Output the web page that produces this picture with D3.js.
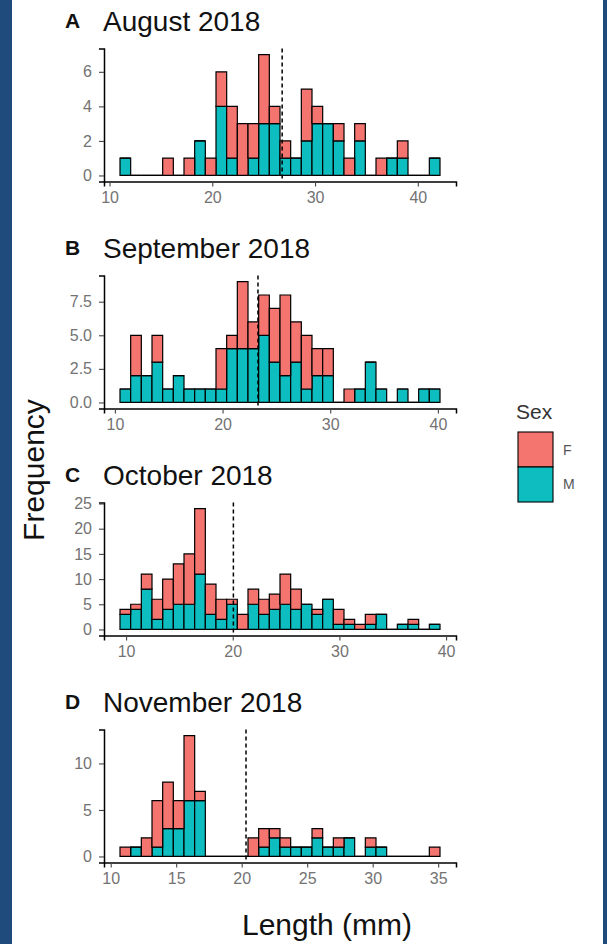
<!DOCTYPE html>
<html>
<head>
<meta charset="utf-8">
<script src="https://cdn.jsdelivr.net/npm/d3@7"></script>
<style>
  html, body { margin: 0; padding: 0; background: #ffffff; }
  svg { display: block; }
  text { font-family: "Liberation Sans", Arial, sans-serif; }
</style>
</head>
<body>
<svg id="chart" width="607" height="944"></svg>
<script>
// Monthly length-frequency histograms by sex, stacked (M below, F above)
const panelLetters = ["A", "B", "C", "D"];
const panelTitles = ["August 2018", "September 2018", "October 2018", "November 2018"];

// Histogram bins: left edge of the first bin and common bin width (mm)
const binStarts = [11.02, 10.475, 9.43, 10.71];
const binWidths = [1.038, 0.9907, 1.0, 0.8143];

// Counts per bin, females
const femaleCounts = [
  [0,0,0,0,1,0,1,0,1,2,3,3,2,4,1,1,0,3,1,0,1,1,1,0,1,0,1,0,0,0],
  [0,3,0,2,0,0,0,0,0,3,1,5,2,3,4,6,3,4,2,2,0,1,0,0,0,0,0,0,0,0],
  [1,1,3,4,6,8,10,13,6,4,1,3,3,3,3,6,4,0,1,0,3,1,1,2,0,0,0,1,0,0],
  [1,0,2,5,5,3,7,1,0,0,0,0,2,2,1,1,0,0,1,0,1,0,0,1,0,0,0,0,0,1]
];
// Counts per bin, males
const maleCounts = [
  [1,0,0,0,0,0,0,2,0,4,1,0,1,3,3,1,1,2,3,3,2,0,2,0,0,1,1,0,0,1],
  [1,2,2,3,1,2,1,1,1,1,4,4,4,5,3,2,3,1,2,2,0,0,1,3,1,0,1,0,1,1],
  [3,4,8,2,4,5,5,11,3,2,5,0,5,3,4,5,4,5,3,6,1,1,0,1,3,0,1,1,0,1],
  [0,1,0,1,3,3,6,6,0,0,0,0,0,1,2,1,1,1,2,1,1,2,0,1,1,0,0,0,0,0]
];

// Mean length per month (dashed reference line)
const meanLengths = [26.8, 23.29, 20.06, 20.33];

const xTicks = [[10,20,30,40], [10,20,30,40], [10,20,30,40], [10,15,20,25,30,35]];
const yTicks = [[0,2,4,6], [0,2.5,5,7.5], [0,5,10,15,20,25], [0,5,10]];
const yTickLabels = [["0","2","4","6"], ["0.0","2.5","5.0","7.5"], ["0","5","10","15","20","25"], ["0","5","10"]];

const sexKeys = ["F", "M"];
const sexColors = { F: "#F47470", M: "#0DBDC0" };

// ---- layout ----
const svg = d3.select("#chart");
const plotLeft = 104, plotRight = 456;
const panelTop0 = 48.5, panelStep = 227, panelH = 133;
const tickColor = "#737373";

svg.append("rect").attr("x", 0).attr("y", 0).attr("width", 607).attr("height", 944).attr("fill", "#ffffff");

panelTitles.forEach((title, p) => {
  const top = panelTop0 + p * panelStep;
  const bottom = top + panelH;
  const n = femaleCounts[p].length;
  const lo = binStarts[p], hi = binStarts[p] + n * binWidths[p];
  const padX = (hi - lo) * 0.05;

  const rows = d3.range(n).map(i => ({
    x0: binStarts[p] + i * binWidths[p],
    x1: binStarts[p] + (i + 1) * binWidths[p],
    F: femaleCounts[p][i],
    M: maleCounts[p][i]
  }));
  const maxTotal = d3.max(rows, d => d.F + d.M);

  const x = d3.scaleLinear().domain([lo - padX, hi + padX]).range([plotLeft, plotRight]);
  const y = d3.scaleLinear().domain([-0.05 * maxTotal, maxTotal * 1.05]).range([bottom, top]);

  const g = svg.append("g");

  // stacked bars: M at the base, F on top
  const stacked = d3.stack().keys(["M", "F"])(rows);
  stacked.forEach(layer => {
    g.append("g")
      .selectAll("path")
      .data(layer)
      .join("path")
      .attr("d", d => {
        const xa = x(d.data.x0), xb = x(d.data.x1);
        const ya = y(d[0]), yb = y(d[1]);
        return `M${xa},${ya}H${xb}V${yb}H${xa}Z`;
      })
      .attr("fill", sexColors[layer.key])
      .attr("stroke", "#000")
      .attr("stroke-width", 1.2);
  });

  // mean line
  g.append("line")
    .attr("x1", x(meanLengths[p])).attr("x2", x(meanLengths[p]))
    .attr("y1", top).attr("y2", bottom)
    .attr("stroke", "#000").attr("stroke-width", 1.5)
    .attr("stroke-dasharray", "4,3");

  // axes
  const xAxis = g.append("g")
    .attr("transform", `translate(0,${bottom})`)
    .call(d3.axisBottom(x).tickValues(xTicks[p]).tickFormat(d3.format("d")).tickSizeOuter(0).tickSize(5).tickPadding(5));
  const yAxis = g.append("g")
    .attr("transform", `translate(${plotLeft},0)`)
    .call(d3.axisLeft(y).tickValues(yTicks[p]).tickFormat((d, j) => yTickLabels[p][j]).tickSizeOuter(0).tickSize(5).tickPadding(7));

  [xAxis, yAxis].forEach(ax => {
    ax.select(".domain").attr("stroke", "#000").attr("stroke-width", 1.5);
    ax.selectAll(".tick line").attr("stroke", "#444").attr("stroke-width", 1.1);
    ax.selectAll(".tick text")
      .attr("fill", tickColor)
      .style("font-size", "16px")
      .style("font-family", "'Liberation Sans', Arial, sans-serif");
  });

  // panel heading
  g.append("text")
    .attr("x", 65).attr("y", top - 28).attr("dy", "0.35em")
    .style("font-size", "21px").style("font-weight", "bold")
    .attr("fill", "#111")
    .text(panelLetters[p]);
  g.append("text")
    .attr("x", 103).attr("y", top - 27).attr("dy", "0.35em")
    .style("font-size", "28px")
    .attr("fill", "#111")
    .text(title);
});

// axis titles
svg.append("text")
  .attr("transform", "translate(33,470) rotate(-90)")
  .attr("text-anchor", "middle").attr("dy", "0.35em")
  .style("font-size", "30px").attr("fill", "#111")
  .text("Frequency");
svg.append("text")
  .attr("x", 327).attr("y", 924).attr("dy", "0.35em")
  .attr("text-anchor", "middle")
  .style("font-size", "30px").attr("fill", "#111")
  .text("Length (mm)");

// legend
const legend = svg.append("g");
legend.append("text")
  .attr("x", 516).attr("y", 412).attr("dy", "0.35em")
  .style("font-size", "21px").attr("fill", "#333")
  .text("Sex");
sexKeys.forEach((k, i) => {
  legend.append("rect")
    .attr("x", 518).attr("y", 432 + i * 35)
    .attr("width", 35).attr("height", 35)
    .attr("fill", sexColors[k])
    .attr("stroke", "#000").attr("stroke-width", 1.1);
  legend.append("text")
    .attr("x", 563).attr("y", 450 + i * 34).attr("dy", "0.35em")
    .style("font-size", "14px").attr("fill", "#555")
    .text(k);
});

// frame strips at the sides
svg.append("rect").attr("x", 0).attr("y", 0).attr("width", 12).attr("height", 944).attr("fill", "#1f4a7c");
svg.append("rect").attr("x", 603).attr("y", 0).attr("width", 4).attr("height", 944).attr("fill", "#1f4a7c");
</script>
</body>
</html>
